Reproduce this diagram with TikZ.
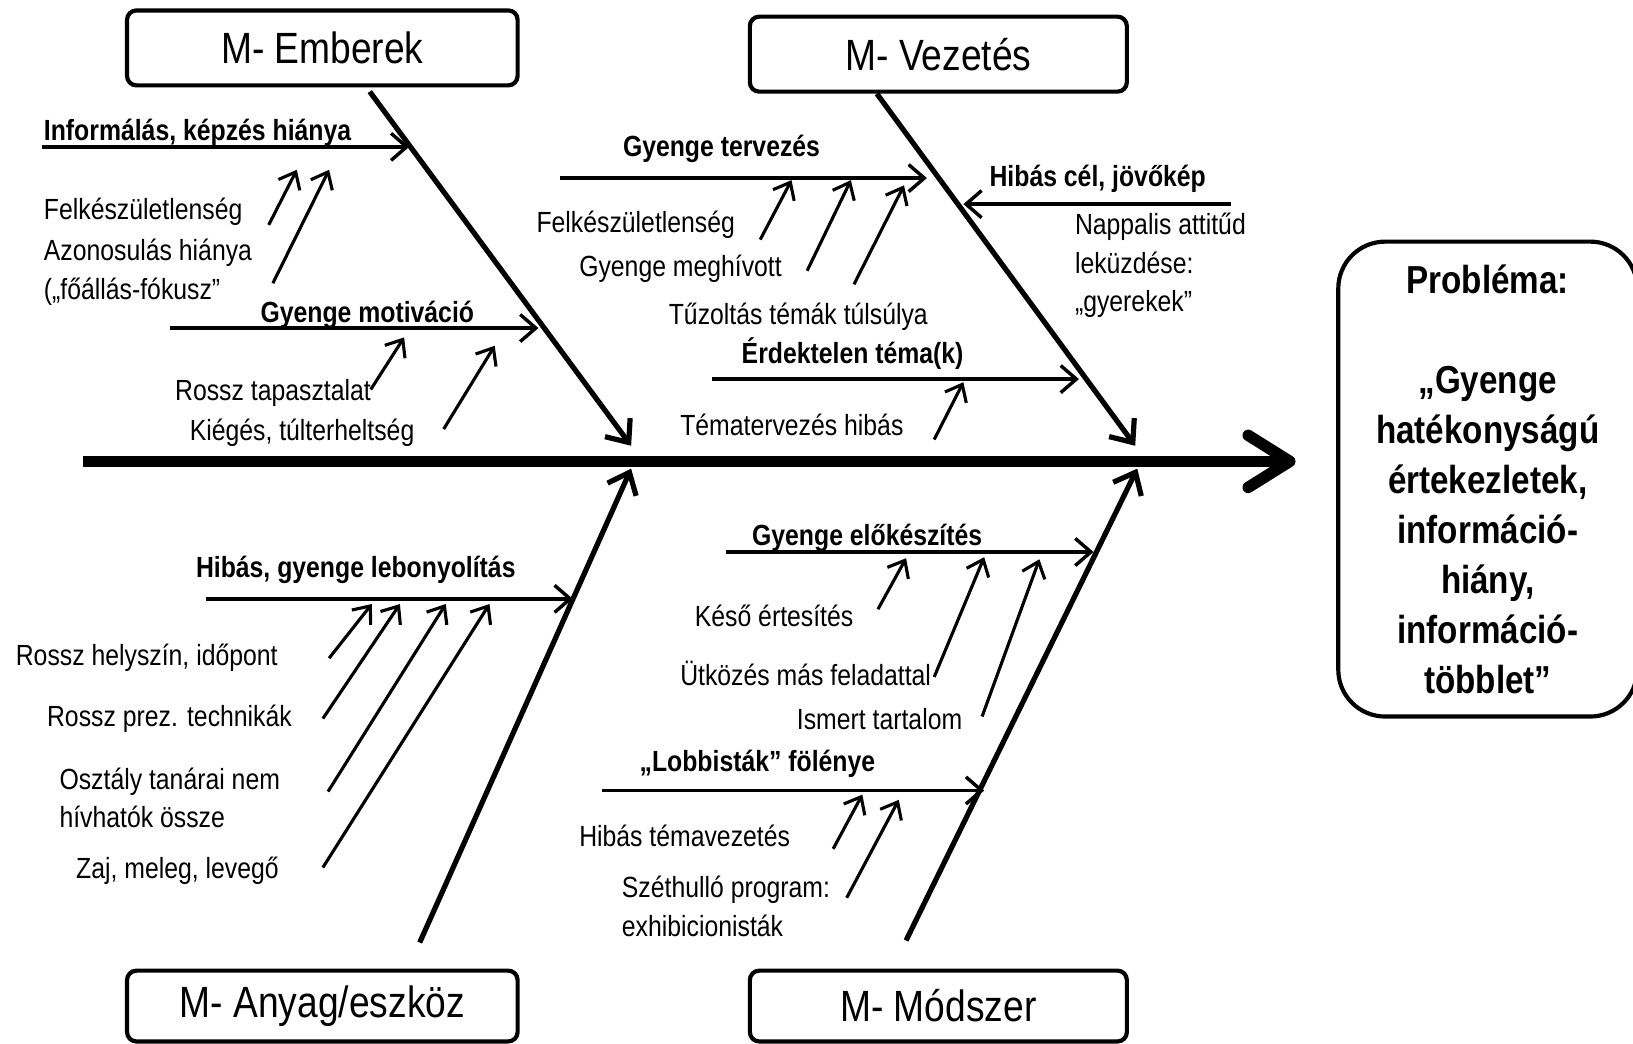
\documentclass[tikz,border=0pt]{standalone}
\usepackage{fontspec}
\setmainfont{Liberation Sans}[FakeStretch=0.85]
\usetikzlibrary{arrows.meta}
\newcommand{\petit}{\fontsize{28}{37}\selectfont}
\newcommand{\gras}{\fontsize{28}{37}\selectfont\bfseries}

\begin{document}
\begin{tikzpicture}[%
    x=1pt,y=-1pt,%
    categorie/.style={draw,line width=4pt,rounded corners=9pt,%
        minimum height=72pt,inner sep=0pt,font=\fontsize{42}{50}\selectfont},%
    probleme/.style={draw,line width=4pt,rounded corners=45pt,%
        minimum width=287pt,minimum height=456pt,inner sep=0pt,align=center,%
        font=\fontsize{37.5}{48}\selectfont\bfseries}%
    ]
    % Diagramme d'Ishikawa

    %
    % Définitions
    %
    \pgfmathsetmacro{\yp}{443};% arête principale
    \pgfmathsetmacro{\yinf}{141};%
    \pgfmathsetmacro{\ymot}{315};%
    \pgfmathsetmacro{\yterv}{171};%
    \pgfmathsetmacro{\ycel}{196};%
    \pgfmathsetmacro{\yerd}{364};%
    \pgfmathsetmacro{\yleb}{575};%
    \pgfmathsetmacro{\yelo}{530};%
    \pgfmathsetmacro{\ylob}{759};%

    %
    % Styles
    %
    \tikzset{texte/.style={inner sep=0pt,anchor=west,align=left,font=\petit}};%
    \tikzset{titre/.style={inner sep=0pt,anchor=west,font=\gras}};%
    \tikzset{epine/.style={line width=11pt,-{Straight Barb[length=40pt,width=50pt,round]}}};%
    \tikzset{arete/.style={line width=5pt,-{Straight Barb[length=18pt,width=30pt]}}};%
    \tikzset{cause/.style={line width=3.3pt,-{Straight Barb[length=15pt,width=26pt]}}};%
    \tikzset{fleche/.style={line width=3pt,-{Straight Barb[length=14pt,width=23pt]}}};%

    \useasboundingbox (0,0) rectangle (1568,1002);%

    %
    % Coordonnées
    %
    % Arête principale
    \coordinate (queue) at (80,\yp);%
    \coordinate (tete) at (1244,\yp);%

    % Arêtes obliques
    \coordinate (embd) at (355,88);%
    \coordinate (embf) at (606,428);%
    \coordinate (vezd) at (842,90);%
    \coordinate (vezf) at (1090,428);%
    \coordinate (anyd) at (403,905);%
    \coordinate (anyf) at (606,450);%
    \coordinate (modd) at (870,903);%
    \coordinate (modf) at (1092,450);%

    % Causes horizontales
    \coordinate (infd) at (40,\yinf);%
    \coordinate (inff) at (393,\yinf);%
    \coordinate (motd) at (163,\ymot);%
    \coordinate (motf) at (517,\ymot);%
    \coordinate (tervd) at (538,\yterv);%
    \coordinate (tervf) at (890,\yterv);%
    \coordinate (celd) at (1182,\ycel);%
    \coordinate (celf) at (925,\ycel);%
    \coordinate (erdd) at (684,\yerd);%
    \coordinate (erdf) at (1036,\yerd);%
    \coordinate (lebd) at (198,\yleb);%
    \coordinate (lebf) at (550,\yleb);%
    \coordinate (elod) at (697,\yelo);%
    \coordinate (elof) at (1050,\yelo);%
    \coordinate (lobd) at (578,\ylob);%
    \coordinate (lobf) at (945,\ylob);%

    % Petites flèches - Emberek
    \coordinate (felkad) at (258,216);%
    \coordinate (felkaf) at (285,163);%
    \coordinate (azond) at (262,272);%
    \coordinate (azonf) at (316,163);%
    \coordinate (rosszd) at (356,374);%
    \coordinate (rosszf) at (388,324);%
    \coordinate (kiegd) at (426,412);%
    \coordinate (kiegf) at (475,332);%

    % Petites flèches - Vezetés
    \coordinate (felkbd) at (730,230);%
    \coordinate (felkbf) at (760,173);%
    \coordinate (meghid) at (775,260);%
    \coordinate (meghif) at (817,173);%
    \coordinate (tuzold) at (820,273);%
    \coordinate (tuzolf) at (868,178);%
    \coordinate (temald) at (897,422);%
    \coordinate (temalf) at (925,367);%

    % Petites flèches - Anyag/eszköz
    \coordinate (helyd) at (316,632);%
    \coordinate (helyf) at (357,580);%
    \coordinate (prezd) at (310,690);%
    \coordinate (prezf) at (384,580);%
    \coordinate (osztd) at (315,760);%
    \coordinate (osztf) at (428,580);%
    \coordinate (zajd) at (310,833);%
    \coordinate (zajf) at (470,580);%

    % Petites flèches - Módszer
    \coordinate (kesod) at (843,585);%
    \coordinate (kesof) at (870,536);%
    \coordinate (utkd) at (897,650);%
    \coordinate (utkf) at (945,535);%
    \coordinate (ismd) at (943,688);%
    \coordinate (ismf) at (998,537);%
    \coordinate (hibtd) at (800,815);%
    \coordinate (hibtf) at (828,763);%
    \coordinate (szetd) at (813,862);%
    \coordinate (szetf) at (863,768);%

    %
    % Dessin
    %
    % Catégories
    \node[categorie,minimum width=375pt] (emb) at (309.5,46) {M- Emberek};%
    \node[categorie,minimum width=362pt] (vez) at (901,52) {M- Vezetés};%
    \node[categorie,minimum width=375pt,minimum height=68pt] (any) at (309.5,966) {M- Anyag/eszköz};%
    \node[categorie,minimum width=362pt,minimum height=68pt] (mod) at (901,966) {M- Módszer};%

    % Problème
    \node[probleme] (prob) at (1428.5,460) {Probléma:\\~\\„Gyenge\\hatékonyságú\\értekezletek,\\információ-\\hiány,\\információ-\\többlet”};%

    % Arêtes
    \draw[epine] (queue) -- (tete);%
    \draw[arete] (embd) -- (embf);%
    \draw[arete] (vezd) -- (vezf);%
    \draw[arete] (anyd) -- (anyf);%
    \draw[arete] (modd) -- (modf);%

    % Causes
    \draw[cause] (infd) -- (inff);%
    \draw[cause] (motd) -- (motf);%
    \draw[cause] (tervd) -- (tervf);%
    \draw[cause] (celd) -- (celf);%
    \draw[cause] (erdd) -- (erdf);%
    \draw[cause] (lebd) -- (lebf);%
    \draw[cause] (elod) -- (elof);%
    \draw[cause] (lobd) -- (lobf);%

    % Sous-causes
    \draw[fleche] (felkad) -- (felkaf);%
    \draw[fleche] (azond) -- (azonf);%
    \draw[fleche] (rosszd) -- (rosszf);%
    \draw[fleche] (kiegd) -- (kiegf);%
    \draw[fleche] (felkbd) -- (felkbf);%
    \draw[fleche] (meghid) -- (meghif);%
    \draw[fleche] (tuzold) -- (tuzolf);%
    \draw[fleche] (temald) -- (temalf);%
    \draw[fleche] (helyd) -- (helyf);%
    \draw[fleche] (prezd) -- (prezf);%
    \draw[fleche] (osztd) -- (osztf);%
    \draw[fleche] (zajd) -- (zajf);%
    \draw[fleche] (kesod) -- (kesof);%
    \draw[fleche] (utkd) -- (utkf);%
    \draw[fleche] (ismd) -- (ismf);%
    \draw[fleche] (hibtd) -- (hibtf);%
    \draw[fleche] (szetd) -- (szetf);%

    % Textes - Emberek
    \node[titre] (tinf) at (42,128) {Informálás, képzés hiánya};%
    \node[texte] (tfelka) at (42,203) {Felkészületlenség};%
    \node[texte] (tazon) at (42,261.5) {Azonosulás hiánya\\(„főállás-fókusz”};%
    \node[titre] (tmot) at (250,302) {Gyenge motiváció};%
    \node[texte] (trossz) at (168,377) {Rossz tapasztalat};%
    \node[texte] (tkieg) at (182,416) {Kiégés, túlterheltség};%

    % Textes - Vezetés
    \node[titre] (tterv) at (598,143) {Gyenge tervezés};%
    \node[texte] (tfelkb) at (515,216) {Felkészületlenség};%
    \node[texte] (tmeghi) at (556,258) {Gyenge meghívott};%
    \node[texte] (ttuzol) at (642,304) {Tűzoltás témák túlsúlya};%
    \node[titre] (tcel) at (950,172) {Hibás cél, jövőkép};%
    \node[texte] (tnapp) at (1032,255) {Nappalis attitűd\\leküzdése:\\„gyerekek”};%
    \node[titre] (terd) at (712,340) {Érdektelen téma(k)};%
    \node[texte] (ttemat) at (653,408) {Tématervezés hibás};%

    % Textes - Anyag/eszköz
    \node[titre] (tleb) at (188,547) {Hibás, gyenge lebonyolítás};%
    \node[texte] (thely) at (15,632) {Rossz helyszín, időpont};%
    \node[texte] (tprez) at (45,690) {Rossz prez. technikák};%
    \node[texte] (toszt) at (57,766) {Osztály tanárai nem\\hívhatók össze};%
    \node[texte] (tzaj) at (73,836) {Zaj, meleg, levegő};%

    % Textes - Módszer
    \node[titre] (telo) at (722,516) {Gyenge előkészítés};%
    \node[texte] (tkeso) at (667,591) {Késő értesítés};%
    \node[texte] (tutk) at (653,647) {Ütközés más feladattal};%
    \node[texte] (tism) at (765,690) {Ismert tartalom};%
    \node[titre] (tlob) at (614,733) {„Lobbisták” fölénye};%
    \node[texte] (thibt) at (556,803) {Hibás témavezetés};%
    \node[texte] (tszet) at (597,870.5) {Széthulló program:\\exhibicionisták};%

\end{tikzpicture}
\end{document}
